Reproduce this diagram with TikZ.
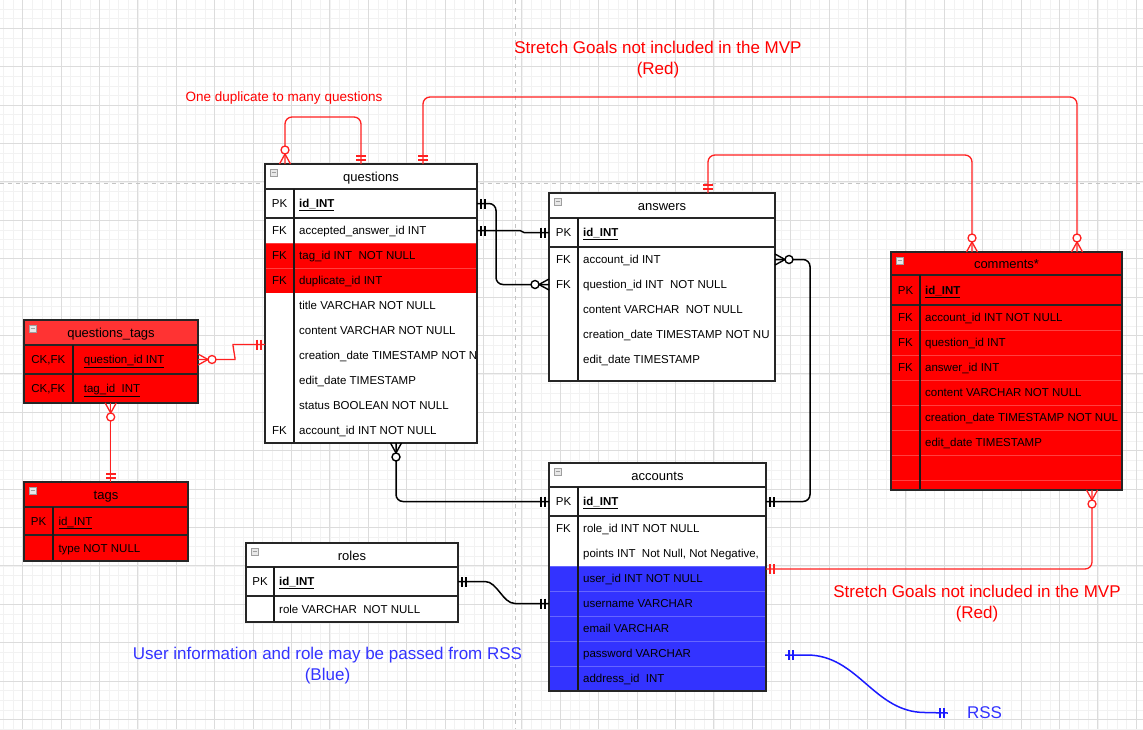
\documentclass[tikz,border=0pt]{standalone}
\usepackage{fontspec}
\setmainfont{Liberation Sans}
\definecolor{erred}{HTML}{FF0000}
\definecolor{erredhdr}{HTML}{FF3333}
\definecolor{erblue}{HTML}{3333FF}
\definecolor{gridminor}{HTML}{F2F2F2}
\definecolor{gridmajor}{HTML}{DCDCDC}
\definecolor{pagebrk}{HTML}{C4C4C4}
\definecolor{edgered}{HTML}{FF2020}
\definecolor{edgeblue}{HTML}{1A1AFF}
\definecolor{txtblue}{HTML}{3333FF}

\newcommand\erRow[9]{%
  \node[rowbox,#7,minimum width=#3,minimum height=#6] (#1) at ({#2+#3/2},{#5+#6/2}) {};
  \node[keyfont] (#1-k) at ({#2+#4/2},{#5+#6/2}) {#8};
  \node[fieldfont] (#1-t) at ({#2+#4+5},{#5+#6/2}) {#9};
}
\newcommand\erFrame[8]{%
  \node[tblbg,minimum width=#4,minimum height=#5] (#1) at (#2,#3) {};
  \node[rowbox,fill=#7,minimum width=#4,minimum height=#6,anchor=north west] (#1-h) at (#2,#3) {};
  \node[titlefont] (#1-title) at ({#2+#4/2},{#3+#6/2}) {#8};
  \draw[iconline,fill=gray!18] ({#2+5},{#3+5}) rectangle ({#2+12},{#3+12});
  \draw[iconline] ({#2+6.5},{#3+8.5}) -- ({#2+10.5},{#3+8.5});
}
\newcommand\oneone[3]{%
  \begin{scope}[shift={(#1)},rotate=#2]
    \draw[#3] (-4,-5) -- (-4,5) (-8,-5) -- (-8,5);
  \end{scope}}
\newcommand\zeromany[3]{%
  \begin{scope}[shift={(#1)},rotate=#2]
    \draw[#3] (0,-5.5) -- (-10,0) -- (0,5.5);
    \draw[#3,fill=white] (-14,0) circle[radius=4pt];
  \end{scope}}

\tikzset{
  rowbox/.style={inner sep=0pt,outer sep=0pt,draw=none},
  colrow/.style={fill=#1,draw=white,draw opacity=0.25,line width=0.8pt},
  keyfont/.style={inner sep=0pt,text height=9pt,text depth=1pt,font=\fontsize{11.5}{13}\selectfont},
  fieldfont/.style={inner sep=0pt,anchor=west,text height=9pt,text depth=1pt,font=\fontsize{11.5}{13}\selectfont},
  titlefont/.style={inner sep=0pt,text height=11pt,text depth=1pt,font=\fontsize{13}{15}\selectfont},
  tblbg/.style={inner sep=0pt,outer sep=0pt,anchor=north west,fill=white,draw=none},
  iconline/.style={draw=gray!75,line width=0.8pt},
  sepline/.style={draw=black!85,line width=1.4pt},
  divline/.style={draw=black!90,line width=1.9pt},
  frameline/.style={draw=black!85,line width=1.4pt},
  gmin/.style={draw=gridminor,line width=0.8pt},
  gmaj/.style={draw=gridmajor,line width=1pt},
  pagebreak/.style={draw=pagebrk,line width=1pt,dash pattern=on 4pt off 4pt},
  redge/.style={draw=edgered,line width=1.3pt,rounded corners=7pt},
  bedge/.style={draw=black,line width=1.5pt,rounded corners=7pt},
  bluedge/.style={draw=edgeblue,line width=1.5pt},
  mkred/.style={draw=edgered,line width=1.3pt},
  mkblack/.style={draw=black,line width=1.4pt},
  mkblue/.style={draw=edgeblue,line width=1.4pt},
  bignote/.style={inner sep=0pt,align=center,font=\fontsize{17}{21}\selectfont},
}

\begin{document}
\begin{tikzpicture}[x=1pt,y=-1pt]
\useasboundingbox (0,0) rectangle (1143,729);
\fill[white] (0,0) rectangle (1143,729);
% grid
\foreach \i in {0,...,119} {\draw[gmin] ({3.5+9.6*\i},0) -- ({3.5+9.6*\i},729);}
\foreach \i in {0,...,75} {\draw[gmin] (0,{9.1+9.6*\i}) -- (1143,{9.1+9.6*\i});}
\foreach \i in {0,...,29} {\draw[gmaj] ({22.7+38.4*\i},0) -- ({22.7+38.4*\i},729);}
\foreach \i in {0,...,18} {\draw[gmaj] (0,{28.3+38.4*\i}) -- (1143,{28.3+38.4*\i});}
\draw[pagebreak] (515,0) -- (515,729);
\draw[pagebreak] (0,183) -- (1143,183);

% ---------------- questions
\erFrame{questions}{265}{164}{212}{279}{25}{white}{questions}
\begin{scope}
\clip (265,164) rectangle (477,443);
\erRow{q-id}{265}{212}{29}{189}{29}{}{PK}{\underline{\textbf{id\_INT}}}
\erRow{q-aa}{265}{212}{29}{218}{25}{}{FK}{accepted\_answer\_id INT}
\erRow{q-tag}{265}{212}{29}{243}{25}{colrow=erred}{FK}{tag\_id INT\ \ NOT NULL}
\erRow{q-dup}{265}{212}{29}{268}{25}{colrow=erred}{FK}{duplicate\_id INT}
\erRow{q-title}{265}{212}{29}{293}{25}{}{}{title VARCHAR NOT NULL}
\erRow{q-content}{265}{212}{29}{318}{25}{}{}{content VARCHAR NOT NULL}
\erRow{q-cdate}{265}{212}{29}{343}{25}{}{}{creation\_date TIMESTAMP NOT N}
\erRow{q-edate}{265}{212}{29}{368}{25}{}{}{edit\_date TIMESTAMP}
\erRow{q-status}{265}{212}{29}{393}{25}{}{}{status BOOLEAN NOT NULL}
\erRow{q-acc}{265}{212}{29}{418}{25}{}{FK}{account\_id INT NOT NULL}
\end{scope}
\draw[sepline] (265,189) -- (477,189) (265,218) -- (477,218);
\draw[divline] (294,189) -- (294,443);
\draw[frameline] (questions.north west) rectangle (questions.south east);

% ---------------- answers
\erFrame{answers}{549}{193}{226}{188}{25}{white}{answers}
\begin{scope}
\clip (549,193) rectangle (775,381);
\erRow{a-id}{549}{226}{29}{218}{29}{}{PK}{\underline{\textbf{id\_INT}}}
\erRow{a-acc}{549}{226}{29}{247}{25}{}{FK}{account\_id INT}
\erRow{a-qid}{549}{226}{29}{272}{25}{}{FK}{question\_id INT\ \ NOT NULL}
\erRow{a-content}{549}{226}{29}{297}{25}{}{}{content VARCHAR\ \ NOT NULL}
\erRow{a-cdate}{549}{226}{29}{322}{25}{}{}{creation\_date TIMESTAMP NOT NU}
\erRow{a-edate}{549}{226}{29}{347}{25}{}{}{edit\_date TIMESTAMP}
\end{scope}
\draw[sepline] (549,218) -- (775,218) (549,247) -- (775,247);
\draw[divline] (578,218) -- (578,381);
\draw[frameline] (answers.north west) rectangle (answers.south east);

% ---------------- comments
\erFrame{comments}{891}{252}{231}{238}{23}{erred}{comments*}
\begin{scope}
\clip (891,252) rectangle (1122,490);
\erRow{c-id}{891}{231}{29}{275}{30}{colrow=erred}{PK}{\underline{\textbf{id\_INT}}}
\erRow{c-acc}{891}{231}{29}{305}{25}{colrow=erred}{FK}{account\_id INT NOT NULL}
\erRow{c-qid}{891}{231}{29}{330}{25}{colrow=erred}{FK}{question\_id INT}
\erRow{c-aid}{891}{231}{29}{355}{25}{colrow=erred}{FK}{answer\_id INT}
\erRow{c-content}{891}{231}{29}{380}{25}{colrow=erred}{}{content VARCHAR NOT NULL}
\erRow{c-cdate}{891}{231}{29}{405}{25}{colrow=erred}{}{creation\_date TIMESTAMP NOT NUL}
\erRow{c-edate}{891}{231}{29}{430}{25}{colrow=erred}{}{edit\_date TIMESTAMP}
\erRow{c-e1}{891}{231}{29}{455}{25}{colrow=erred}{}{}
\erRow{c-e2}{891}{231}{29}{480}{10}{colrow=erred}{}{}
\end{scope}
\draw[sepline] (891,275) -- (1122,275) (891,305) -- (1122,305);
\draw[divline] (920,275) -- (920,490);
\draw[frameline] (comments.north west) rectangle (comments.south east);

% ---------------- questions_tags
\erFrame{qt}{24}{320}{174}{83}{25}{erredhdr}{questions\_tags}
\begin{scope}
\clip (24,320) rectangle (198,403);
\erRow{qt-q}{24}{174}{48.7}{345}{29}{colrow=erred}{CK,FK}{\hspace{6pt}\underline{question\_id INT}}
\erRow{qt-t}{24}{174}{48.7}{374}{29}{colrow=erred}{CK,FK}{\hspace{6pt}\underline{tag\_id\ \ INT}}
\end{scope}
\draw[sepline] (24,345) -- (198,345) (24,374) -- (198,374);
\draw[divline] (72.7,345) -- (72.7,403);
\draw[frameline] (qt.north west) rectangle (qt.south east);

% ---------------- tags
\erFrame{tags}{24}{482}{164}{79}{25}{erred}{tags}
\begin{scope}
\clip (24,482) rectangle (188,561);
\erRow{tg-id}{24}{164}{29.3}{507}{28}{colrow=erred}{PK}{\underline{id\_INT}}
\erRow{tg-type}{24}{164}{29.3}{535}{26}{colrow=erred}{}{type NOT NULL}
\end{scope}
\draw[sepline] (24,507) -- (188,507) (24,535) -- (188,535);
\draw[divline] (53.3,507) -- (53.3,561);
\draw[frameline] (tags.north west) rectangle (tags.south east);

% ---------------- roles
\erFrame{roles}{246}{543}{212}{79}{24}{white}{roles}
\begin{scope}
\clip (246,543) rectangle (458,622);
\erRow{r-id}{246}{212}{28}{567}{29}{}{PK}{\underline{\textbf{id\_INT}}}
\erRow{r-role}{246}{212}{28}{596}{26}{}{}{role VARCHAR\ \ NOT NULL}
\end{scope}
\draw[sepline] (246,567) -- (458,567) (246,596) -- (458,596);
\draw[divline] (274,567) -- (274,622);
\draw[frameline] (roles.north west) rectangle (roles.south east);

% ---------------- accounts
\erFrame{accounts}{549}{463}{217}{228}{24}{white}{accounts}
\begin{scope}
\clip (549,463) rectangle (766,691);
\erRow{acc-id}{549}{217}{29}{487}{29}{}{PK}{\underline{\textbf{id\_INT}}}
\erRow{acc-role}{549}{217}{29}{516}{25}{}{FK}{role\_id INT NOT NULL}
\erRow{acc-pts}{549}{217}{29}{541}{25}{}{}{points INT\ \ Not Null, Not Negative,}
\erRow{acc-user}{549}{217}{29}{566}{25}{colrow=erblue}{}{user\_id INT NOT NULL}
\erRow{acc-uname}{549}{217}{29}{591}{25}{colrow=erblue}{}{username VARCHAR}
\erRow{acc-email}{549}{217}{29}{616}{25}{colrow=erblue}{}{email VARCHAR}
\erRow{acc-pw}{549}{217}{29}{641}{25}{colrow=erblue}{}{password VARCHAR}
\erRow{acc-addr}{549}{217}{29}{666}{25}{colrow=erblue}{}{address\_id\ \ INT}
\end{scope}
\draw[sepline] (549,487) -- (766,487) (549,516) -- (766,516);
\draw[divline] (578,487) -- (578,691);
\draw[frameline] (accounts.north west) rectangle (accounts.south east);

% ---------------- labels
\node[inner sep=0pt,text=erred,font=\fontsize{13.5}{16}\selectfont] (dup-note) at (284,98.5) {One duplicate to many questions};
\node[bignote,text=erred] (stretch-top) at (658,59.5) {Stretch Goals not included in the MVP\\(Red)};
\node[bignote,text=erred] (stretch-bot) at (977,603.5) {Stretch Goals not included in the MVP\\(Red)};
\node[bignote,text=txtblue] (rss-note) at (327.5,665.5) {User information and role may be passed from RSS\\(Blue)};
\node[inner sep=0pt,text=txtblue,font=\fontsize{17}{20}\selectfont] (rss) at (984.5,713) {RSS};

% ---------------- connection points
\coordinate (q-dup-in) at ([xshift=20pt]questions.north west);
\coordinate (q-dup-out) at ([xshift=96pt]questions.north west);
\coordinate (q-com) at ([xshift=158pt]questions.north west);
\coordinate (a-com) at ([xshift=159pt]answers.north west);
\coordinate (c-q) at ([xshift=186pt]comments.north west);
\coordinate (c-a) at ([xshift=81pt]comments.north west);
\coordinate (q-bot-acc) at ([xshift=131pt]questions.south west);
\coordinate (c-acc-in) at ([xshift=201pt]comments.south west);
\coordinate (acc-red) at ([yshift=-3pt]acc-user.north east);
\coordinate (q-qt) at ([yshift=-180.5pt]questions.north west);
\coordinate (qt-tags) at ([xshift=86.7pt]qt.south west);
\coordinate (tags-qt) at ([xshift=86.7pt]tags.north west);
\coordinate (rss-a) at (785,655);
\coordinate (rss-b) at ([xshift=-19pt]rss.west);

% ---------------- connectors
\draw[redge] (q-dup-in) -- ++(0,-47) -| (q-dup-out);
\draw[redge] (q-com) -- ++(0,-67) -| (c-q);
\draw[redge] (a-com) -- ++(0,-38) -| (c-a);
\draw[redge] (acc-red) -| (c-acc-in);
\draw[bedge] (q-id.east) -- ++(19,0) |- (a-qid.west);
\draw[bedge] (q-aa.east) -- ++(36,0) to[out=0,in=180] ++(18,2) -- (a-id.west);
\draw[bedge] (a-acc.east) -- ++(35,0) |- (acc-id.east);
\draw[bedge] (q-bot-acc) |- (acc-id.west);
\draw[bedge] (r-id.east) -- ++(20,0) to[out=0,in=180] ++(44,22) -- (acc-uname.west);
\draw[redge] (qt-q.east) -- ++(30,0) to[out=0,in=180] ++(12,-15) -- (q-qt);
\draw[redge] (qt-tags) -- (tags-qt);
\draw[bluedge] (rss-a) -- ++(22,0) to[out=0,in=180] ++(118,57.5) -- (rss-b);

% ---------------- markers
\zeromany{q-dup-in}{-90}{mkred}
\oneone{q-dup-out}{-90}{mkred}
\oneone{q-com}{-90}{mkred}
\zeromany{c-q}{-90}{mkred}
\oneone{a-com}{-90}{mkred}
\zeromany{c-a}{-90}{mkred}
\oneone{acc-red}{180}{mkred}
\zeromany{c-acc-in}{90}{mkred}
\oneone{q-id.east}{180}{mkblack}
\zeromany{a-qid.west}{0}{mkblack}
\oneone{q-aa.east}{180}{mkblack}
\oneone{a-id.west}{0}{mkblack}
\zeromany{a-acc.east}{180}{mkblack}
\oneone{acc-id.east}{180}{mkblack}
\zeromany{q-bot-acc}{90}{mkblack}
\oneone{acc-id.west}{0}{mkblack}
\oneone{r-id.east}{180}{mkblack}
\oneone{acc-uname.west}{0}{mkblack}
\zeromany{qt-q.east}{180}{mkred}
\oneone{q-qt}{0}{mkred}
\zeromany{qt-tags}{90}{mkred}
\oneone{tags-qt}{-90}{mkred}
\oneone{rss-a}{180}{mkblue}
\oneone{rss-b}{0}{mkblue}
\end{tikzpicture}
\end{document}
